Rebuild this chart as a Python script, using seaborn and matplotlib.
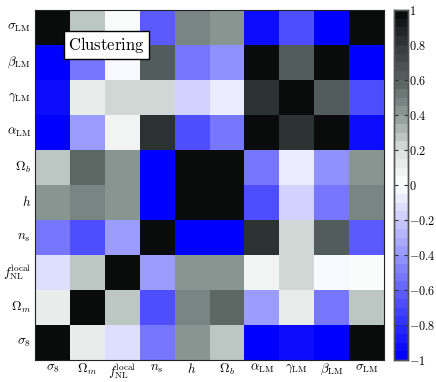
import numpy as np
import pandas as pd
import matplotlib
matplotlib.use("Agg")
import matplotlib.pyplot as plt
import seaborn as sns
from matplotlib.colors import LinearSegmentedColormap, ListedColormap

# Parameter names (column order, left to right; rows shown reversed)
params = [r"$\sigma_8$", r"$\Omega_m$", r"$f_{\rm NL}^{\rm local}$", r"$n_s$", r"$h$",
          r"$\Omega_b$", r"$\alpha_{\rm LM}$", r"$\gamma_{\rm LM}$", r"$\beta_{\rm LM}$", r"$\sigma_{\rm LM}$"]

# Correlation rows (same order as params)
r_sigma8 = [1.00, 0.10, -0.15, -0.55, 0.40, 0.25, -0.97, -0.92, -1.00, 0.95]
r_omegam = [0.10, 1.00, 0.25, -0.70, 0.45, 0.55, -0.37, 0.10, -0.53, 0.25]
r_fnl    = [-0.15, 0.25, 1.00, -0.37, 0.40, 0.40, 0.05, 0.20, -0.05, 0.00]
r_ns     = [-0.55, -0.70, -0.37, 1.00, -0.97, -1.00, 0.80, 0.20, 0.60, -0.65]
r_h      = [0.40, 0.45, 0.40, -0.97, 1.00, 0.98, -0.70, -0.20, -0.55, 0.45]
r_omegab = [0.25, 0.55, 0.40, -1.00, 0.98, 1.00, -0.55, -0.10, -0.45, 0.40]
r_alpha  = [-0.97, -0.37, 0.05, 0.80, -0.70, -0.55, 1.00, 0.80, 0.95, -0.95]
r_gamma  = [-0.92, 0.10, 0.20, 0.20, -0.20, -0.10, 0.80, 1.00, 0.60, -0.70]
r_beta   = [-1.00, -0.53, -0.05, 0.60, -0.55, -0.45, 0.95, 0.60, 1.00, -1.00]
r_sigmal = [0.95, 0.25, 0.00, -0.65, 0.45, 0.40, -0.95, -0.70, -1.00, 1.00]

cbar_ticks = [-1, -0.8, -0.6, -0.4, -0.2, 0, 0.2, 0.4, 0.6, 0.8, 1]

plt.rcParams["mathtext.fontset"] = "cm"

mat = np.array([r_sigma8, r_omegam, r_fnl, r_ns, r_h, r_omegab, r_alpha, r_gamma, r_beta, r_sigmal])
df = pd.DataFrame(mat, index=params, columns=params)
df = df.iloc[::-1]  # top row is last parameter

nodes = [(0.0, (0, 0, 1)), (0.5, (1, 1, 1)), (0.6, (220/255, 226/255, 224/255)),
         (0.7, (146/255, 160/255, 156/255)), (0.8, (90/255, 101/255, 98/255)),
         (0.9, (55/255, 62/255, 62/255)), (1.0, (10/255, 12/255, 12/255))]
base = LinearSegmentedColormap.from_list("bwk", nodes)
cmap = ListedColormap(base(np.linspace(0, 1, 40)))

fig = plt.figure(figsize=(4.36, 3.82), dpi=100)
W, H = 436, 382
ax = fig.add_axes([35/W, 1 - 360/H, 349/W, 350/H])
cax = fig.add_axes([394/W, 1 - 360/H, 14/W, 350/H])

sns.heatmap(df, ax=ax, cmap=cmap, vmin=-1, vmax=1, cbar_ax=cax, square=False,
            xticklabels=True, yticklabels=True)

ax.tick_params(axis="y", length=0, labelsize=9.5, pad=3)
ax.tick_params(axis="x", length=0, labelsize=9.5, pad=1.5)
ax.set_xticklabels(params, rotation=0)
ax.set_yticklabels(df.index, rotation=0)
for s in ax.spines.values():
    s.set_visible(True)
    s.set_linewidth(0.8)
    s.set_color("#222222")

ax.text(0.206, 0.9, r"$\mathrm{Clustering}$", transform=ax.transAxes, fontsize=12,
        ha="center", va="center",
        bbox=dict(boxstyle="square,pad=0.25", fc="white", ec="black", lw=1))

cax.set_yticks(cbar_ticks)
cax.set_yticklabels([("$%g$" % t) for t in cbar_ticks])
cax.tick_params(axis="y", direction="in", left=True, right=True, length=3,
                labelsize=8.8, color="#333333", pad=0.5)
for s in cax.spines.values():
    s.set_visible(True)
    s.set_color("#555555")
    s.set_linewidth(1)
cbar = ax.collections[0].colorbar
cbar.outline.set_edgecolor("#555555")
cbar.outline.set_linewidth(1)

fig.savefig("out.png", dpi=100)
